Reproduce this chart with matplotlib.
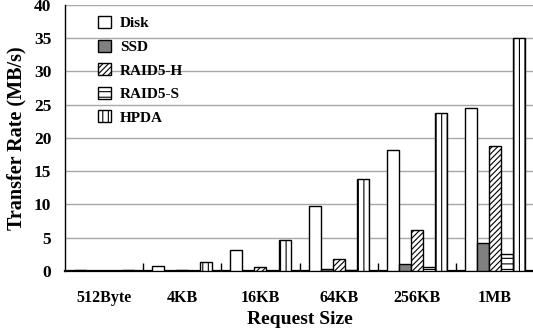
import matplotlib.pyplot as plt
import numpy as np

sizes = ['512Byte', '4KB', '16KB', '64KB', '256KB', '1MB']
disk = [0.2, 0.75, 3.1, 9.8, 18.2, 24.5]
ssd = [0.0, 0.0, 0.0, 0.3, 1.1, 4.2]
raid5_h = [0.0, 0.2, 0.6, 1.8, 6.2, 18.8]
raid5_s = [0.0, 0.0, 0.0, 0.2, 0.6, 2.5]
hpda = [0.2, 1.3, 4.7, 13.8, 23.8, 35.0]

series = [
    ('Disk', disk, 'white', ''),
    ('SSD', ssd, '#808080', ''),
    ('RAID5-H', raid5_h, 'white', '//////'),
    ('RAID5-S', raid5_s, 'white', '---'),
    ('HPDA', hpda, 'white', '|||'),
]

plt.rcParams['font.family'] = 'Liberation Serif'
plt.rcParams['font.weight'] = 'bold'
plt.rcParams['hatch.linewidth'] = 0.8

fig = plt.figure(figsize=(5.33, 3.32), dpi=100)
ax = fig.add_axes([0.122, 0.184, 0.880, 0.801])

x = np.arange(len(sizes))
w = 0.154
for i, (name, vals, color, hatch) in enumerate(series):
    ax.bar(x + (i - 2) * w, vals, w, color=color, edgecolor='black',
           hatch=hatch, linewidth=1.0, label=name, zorder=3)

ax.set_xlim(-0.5, len(sizes) - 0.5)
ax.set_ylim(0, 40)
ax.set_yticks(range(0, 41, 5))
ax.yaxis.grid(True, color='#a8a8a8', linewidth=1.0, zorder=0)
ax.set_axisbelow(True)

ax.set_xticks(x)
ax.set_xticklabels(sizes, fontsize=11.5, fontweight='bold')
ax.tick_params(axis='x', length=0, pad=14)
ax.set_xticks(np.arange(0.5, len(sizes) - 1, 1), minor=True)
ax.tick_params(axis='x', which='minor', direction='in', length=6, width=1)
ax.tick_params(axis='y', length=0, labelsize=12.5, pad=10)
for lbl in ax.get_yticklabels():
    lbl.set_fontweight('bold')

for s in ['top', 'right']:
    ax.spines[s].set_visible(False)
ax.spines['left'].set_linewidth(1.0)
ax.spines['bottom'].set_linewidth(1.6)

ax.set_xlabel('Request Size', fontsize=14, fontweight='bold', labelpad=3)
ax.set_ylabel('Transfer Rate (MB/s)', fontsize=14.5, fontweight='bold', labelpad=5)

ax.legend(loc='upper left', bbox_to_anchor=(0.04, 1.01), frameon=False,
          handlelength=0.85, handleheight=0.85, handletextpad=0.6,
          labelspacing=0.6, prop={'weight': 'bold', 'size': 11})

fig.savefig('out.png', dpi=100)
